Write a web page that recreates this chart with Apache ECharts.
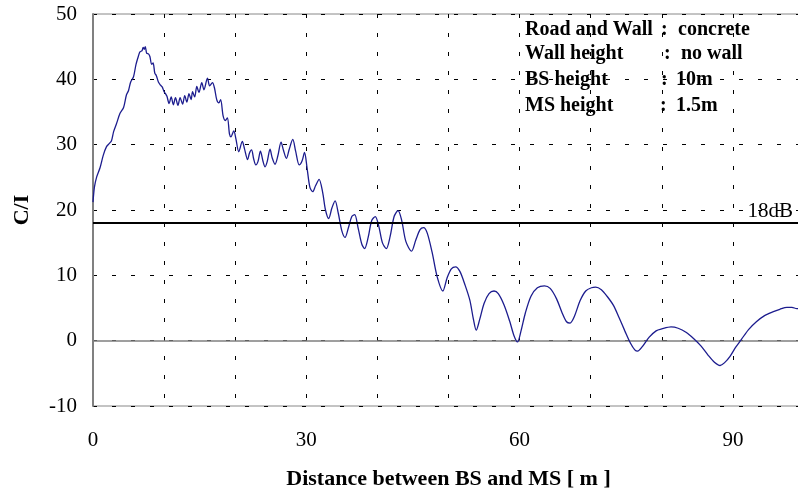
<!DOCTYPE html>
<html>
<head>
<meta charset="utf-8">
<script src="https://cdn.jsdelivr.net/npm/echarts@6/dist/echarts.min.js"></script>
<style>
  html, body { margin: 0; padding: 0; background: #fff; }
  #chart { width: 798px; height: 495px; }
</style>
</head>
<body>
<div id="chart"></div>
<script>
// Distance between base station and mobile station (m)
const distance = [
  0.0, 0.2, 0.5, 1.0, 1.45, 1.9, 2.3, 2.6, 2.9, 3.3, 3.8, 4.3, 4.7, 5.0, 5.3, 5.7,
  6.05, 6.4, 6.6, 6.9, 7.05, 7.2, 7.35, 7.55, 7.8, 8.0, 8.25, 8.45, 8.7, 8.9, 9.2, 9.5,
  9.75, 10.0, 10.2, 10.4, 10.7, 11.0, 11.3, 11.6, 11.95, 12.25, 12.6, 12.9, 13.2, 13.5,
  13.8, 14.0, 14.3, 14.6, 14.9, 15.3, 15.6, 16.1, 16.4, 16.8, 17.1, 17.4, 17.7, 17.95,
  18.3, 18.6, 18.9, 19.2, 19.4, 19.8, 20.1, 20.5, 21.0, 21.3, 21.75, 22.0, 22.3, 22.6,
  22.9, 23.2, 23.55, 23.9, 24.2, 24.5, 24.9, 25.2, 25.6, 26.0, 26.45, 26.8, 27.2, 27.6,
  28.1, 28.5, 29.0, 29.4, 29.75, 30.1, 30.5, 30.9, 31.3, 31.8, 32.3, 32.7, 33.15, 33.6,
  34.05, 34.5, 35.0, 35.45, 35.9, 36.4, 36.8, 37.3, 37.8, 38.2, 38.7, 39.2, 39.7, 40.2,
  40.7, 41.25, 41.8, 42.35, 42.9, 43.4, 44.0, 44.8, 45.4, 46.0, 46.5, 47.0, 47.7, 48.4,
  49.2, 49.8, 50.4, 51.0, 51.6, 52.3, 53.0, 53.5, 53.9, 54.4, 55.0, 55.7, 56.4, 57.0,
  57.8, 58.6, 59.2, 59.7, 60.2, 60.8, 61.6, 62.5, 63.5, 64.3, 65.2, 66.0, 66.6, 67.1,
  67.7, 68.5, 69.3, 70.1, 70.7, 71.5, 72.3, 73.2, 74.0, 74.8, 75.6, 76.2, 76.6, 77.2,
  78.2, 79.2, 80.0, 81.3, 82.3, 83.4, 84.5, 85.5, 86.5, 87.4, 88.2, 88.8, 89.6, 90.4,
  91.2, 92.2, 93.3, 94.4, 95.6, 96.6, 97.6, 98.3, 99.0, 99.5
];

// Carrier-to-interference ratio (dB) at each distance
const ciDb = [
  21.2, 23.5, 25.0, 26.5, 28.4, 29.7, 30.2, 30.6, 32.0, 33.2, 34.8, 35.7, 37.6, 38.3, 39.6, 40.4,
  42.3, 43.6, 44.2, 44.4, 44.9, 44.6, 45.0, 44.0, 43.9, 43.5, 42.3, 42.5, 40.9, 40.6, 39.6, 39.1,
  38.8, 38.1, 37.8, 37.4, 36.3, 37.3, 36.1, 37.2, 36.0, 37.2, 36.2, 37.5, 36.5, 37.8,
  36.9, 38.1, 37.3, 38.9, 38.0, 39.5, 38.4, 40.2, 39.0, 39.5, 38.6, 36.9, 36.4, 36.9,
  34.4, 33.7, 34.1, 31.6, 31.2, 32.1, 30.9, 28.9, 30.5, 29.4, 27.7, 28.7, 29.2, 27.8,
  26.9, 27.4, 29.0, 27.5, 26.6, 27.4, 29.3, 28.0, 27.0, 28.3, 30.4, 29.1, 27.9, 29.3,
  30.8, 29.0, 26.9, 27.5, 28.8, 26.5, 23.5, 22.8, 23.7, 24.7, 22.7, 20.0, 18.7, 20.3,
  21.4, 19.5, 16.8, 15.8, 17.2, 19.0, 19.3, 17.2, 14.8, 14.1, 15.8, 18.4, 19.0, 17.5,
  15.0, 14.1, 16.0, 19.0, 19.9, 18.5, 15.2, 13.7, 15.4, 17.0, 17.3, 16.5, 13.5, 9.8,
  7.6, 9.6, 11.0, 11.3, 10.6, 8.6, 6.2, 3.3, 1.6, 3.3, 5.7, 7.2, 7.6, 7.2,
  5.5, 3.0, 0.8, -0.2, 1.5, 4.2, 6.8, 8.1, 8.4, 8.0, 6.4, 4.2, 2.9, 2.7,
  3.7, 6.1, 7.6, 8.1, 8.2, 7.8, 6.8, 5.4, 3.5, 1.5, -0.4, -1.4, -1.6, -1.0,
  0.5, 1.5, 1.8, 2.1, 1.9, 1.3, 0.3, -0.8, -2.2, -3.3, -3.8, -3.4, -2.4, -1.0,
  0.2, 1.7, 2.9, 3.8, 4.4, 4.8, 5.1, 5.1, 4.9, 4.9
];

// Threshold line
const thresholdDb = 18;
const thresholdLabel = '18dB';

// Axis tick labels
const xTickLabels = [0, 30, 60, 90];
const yTickLabels = [-10, 0, 10, 20, 30, 40, 50];

// Simulation conditions
const condLabels = ['Road and Wall', 'Wall height', 'BS height', 'MS height'];
const condValues = ['concrete', 'no wall', '10m', '1.5m'];

const serif = '"Liberation Serif", "Times New Roman", serif';
const chart = echarts.init(document.getElementById('chart'), null, { renderer: 'canvas' });

const points = distance.map((d, i) => [d, ciDb[i]]);

// Condition block: label column, colon column, value column
const rowY = [31, 55, 81, 107];
const colonX = [661, 664, 661, 660];
const valueX = [678, 681, 676, 676];
const graphics = [];
condLabels.forEach((t, i) => {
  const st = { fontFamily: serif, fontWeight: 'bold', fontSize: 20, fill: '#000', textVerticalAlign: 'middle' };
  graphics.push({ type: 'text', left: 525, top: rowY[i] - 11, style: Object.assign({ text: t }, st) });
  graphics.push({ type: 'text', left: colonX[i], top: rowY[i] - 11, style: Object.assign({ text: ':' }, st) });
  graphics.push({ type: 'text', left: valueX[i], top: rowY[i] - 11, style: Object.assign({ text: condValues[i] }, st) });
});

const gridDash = { color: '#000', width: 1, type: [4, 15] };

chart.setOption({
  animation: false,
  backgroundColor: '#fff',
  grid: {
    left: 93, top: 14, bottom: 89, right: -6,
    outerBoundsMode: 'none', containLabel: false,
    show: true, borderColor: '#888', borderWidth: 1, backgroundColor: 'transparent'
  },
  xAxis: {
    type: 'value', min: 0, max: 100, interval: 10,
    name: 'Distance between BS and MS [ m ]',
    nameLocation: 'middle', nameGap: 62,
    nameTextStyle: { fontFamily: serif, fontWeight: 'bold', fontSize: 22, color: '#000' },
    axisLine: { show: true, lineStyle: { color: '#808080', width: 1.5 } },
    axisTick: { show: false },
    axisLabel: {
      margin: 24, fontFamily: serif, fontSize: 21, color: '#000',
      formatter: v => (xTickLabels.indexOf(v) >= 0 ? String(v) : '')
    },
    splitLine: { show: true, lineStyle: gridDash }
  },
  yAxis: {
    type: 'value', min: -10, max: 50, interval: 10,
    name: 'C/I', nameLocation: 'middle', nameGap: 60, nameRotate: 90,
    nameTextStyle: { fontFamily: serif, fontWeight: 'bold', fontSize: 22, color: '#000' },
    axisLine: { show: true, lineStyle: { color: '#808080', width: 2 } },
    axisTick: { show: false },
    axisLabel: {
      margin: 16, fontFamily: serif, fontSize: 21, color: '#000',
      formatter: v => (yTickLabels.indexOf(v) >= 0 ? String(v) : '')
    },
    splitLine: { show: true, lineStyle: gridDash }
  },
  series: [{
    type: 'line',
    data: points,
    showSymbol: false,
    smooth: 0.3,
    lineStyle: { color: '#1c1c8e', width: 1.3 },
    markLine: {
      silent: true,
      symbol: ['none', 'none'],
      data: [{ yAxis: thresholdDb }],
      lineStyle: { color: '#000', width: 2, type: 'solid' },
      label: {
        show: true, position: 'insideEndTop', formatter: thresholdLabel,
        fontFamily: serif, fontSize: 21, color: '#000', distance: [11, 1]
      }
    },
    z: 3
  }],
  graphic: graphics
});
</script>
</body>
</html>
